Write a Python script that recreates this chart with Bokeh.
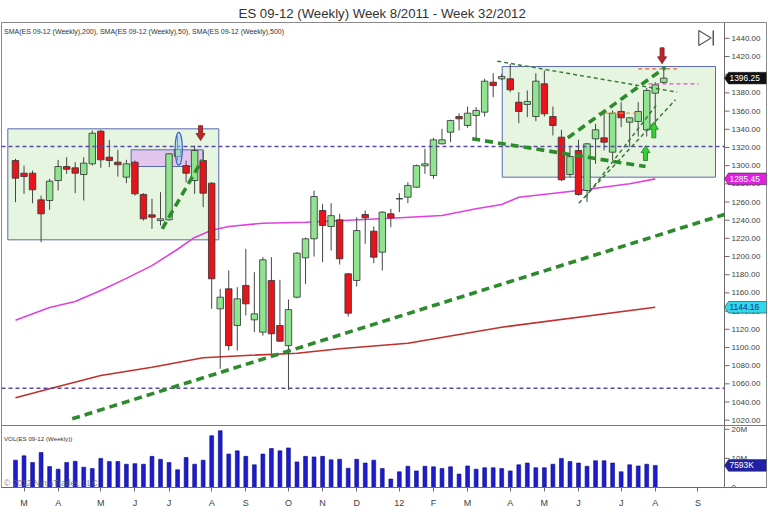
from bokeh.plotting import figure
from bokeh.models import Range1d, FixedTicker, Span, Label, ColumnDataSource
from bokeh.core.properties import value
from bokeh.embed import file_html
from bokeh.resources import INLINE

# ---------------- data (weekly bars, index 0 = week 8/2011) ----------------
bar_index = list(range(77))
opens = [1305.6, 1291.7, 1291.7, 1262.4, 1261.6, 1283.6, 1299.0, 1297.6, 1290.2, 1302.0,
         1337.9, 1309.3, 1303.8, 1287.3, 1303.8, 1268.3, 1245.9, 1239.6, 1240.4, 1310.0,
         1300.0, 1283.6, 1305.6, 1280.7, 1142.5, 1164.5, 1124.2, 1168.2, 1130.4, 1116.8,
         1173.7, 1124.2, 1102.0, 1155.3, 1198.6, 1219.5, 1250.6, 1233.0, 1240.4, 1181.0,
         1173.7, 1246.2, 1227.9, 1204.8, 1247.0, 1263.3, 1265.3, 1276.3, 1299.8, 1289.2,
         1324.0, 1336.8, 1354.0, 1344.2, 1355.2, 1358.8, 1391.8, 1395.5, 1395.5, 1369.8,
         1367.3, 1354.0, 1390.0, 1354.0, 1331.3, 1290.2, 1316.7, 1272.6, 1329.5, 1330.6,
         1314.8, 1359.6, 1347.8, 1348.6, 1339.4, 1379.7, 1391.6]
highs = [1307.5, 1300.0, 1294.6, 1267.0, 1285.5, 1306.4, 1309.3, 1303.8, 1309.3, 1338.6,
         1339.4, 1328.4, 1317.4, 1306.4, 1305.6, 1269.7, 1263.5, 1270.8, 1313.7, 1333.0,
         1305.6, 1322.0, 1316.7, 1281.8, 1164.5, 1184.6, 1166.3, 1208.5, 1182.8, 1199.3,
         1199.3, 1174.4, 1152.7, 1204.8, 1221.0, 1272.6, 1258.0, 1258.7, 1247.0, 1182.0,
         1243.3, 1250.6, 1233.0, 1250.0, 1252.5, 1269.7, 1281.8, 1301.2, 1318.5, 1330.6,
         1340.5, 1350.4, 1357.7, 1365.0, 1364.3, 1395.5, 1401.7, 1401.0, 1412.0, 1380.8,
         1382.7, 1401.7, 1404.7, 1365.0, 1339.4, 1321.0, 1328.4, 1325.0, 1346.0, 1358.8,
         1360.7, 1369.8, 1353.3, 1369.8, 1385.6, 1391.8, 1408.3]
lows = [1259.8, 1269.0, 1258.7, 1215.8, 1251.4, 1272.6, 1291.0, 1269.7, 1261.6, 1300.0,
        1297.6, 1298.3, 1288.0, 1280.7, 1267.0, 1239.6, 1230.5, 1234.2, 1239.6, 1305.6,
        1281.8, 1269.0, 1254.3, 1142.5, 1076.5, 1096.6, 1096.6, 1135.2, 1116.8, 1113.0,
        1093.0, 1106.0, 1053.4, 1154.0, 1170.0, 1200.0, 1193.8, 1206.6, 1191.2, 1134.0,
        1167.0, 1214.0, 1192.7, 1184.6, 1232.3, 1248.8, 1258.7, 1275.6, 1291.0, 1285.5,
        1323.3, 1325.8, 1338.6, 1341.6, 1328.4, 1354.0, 1375.3, 1394.0, 1380.8, 1346.7,
        1353.3, 1348.9, 1354.0, 1333.2, 1283.0, 1287.3, 1267.0, 1259.8, 1302.0, 1316.7,
        1305.6, 1342.3, 1320.3, 1332.0, 1332.0, 1342.3, 1390.0]
closes = [1286.2, 1288.0, 1273.4, 1247.0, 1282.9, 1299.0, 1296.0, 1291.7, 1302.7, 1335.7,
          1306.4, 1305.6, 1301.0, 1302.0, 1269.0, 1241.5, 1243.3, 1241.5, 1313.0, 1317.7,
          1291.7, 1316.7, 1269.7, 1175.5, 1155.3, 1102.0, 1153.5, 1148.0, 1137.0, 1196.4,
          1115.0, 1106.9, 1141.6, 1203.7, 1219.5, 1266.0, 1234.2, 1245.0, 1197.5, 1137.7,
          1228.6, 1242.6, 1199.3, 1248.8, 1242.6, 1263.8, 1278.2, 1300.0, 1302.0, 1328.4,
          1328.4, 1349.7, 1351.5, 1357.7, 1360.7, 1392.9, 1388.2, 1398.0, 1383.4, 1359.6,
          1370.6, 1392.9, 1357.0, 1344.2, 1284.4, 1310.0, 1268.3, 1324.0, 1339.4, 1325.8,
          1357.7, 1352.6, 1352.6, 1359.6, 1382.7, 1388.9, 1396.25]
volume_m = [9.4, 10.9, 8.6, 12.0, 7.2, 6.3, 8.6, 9.0, 7.0, 6.5,
            10.0, 8.9, 8.9, 8.0, 8.2, 8.0, 10.7, 9.7, 8.6, 6.1,
            10.3, 8.0, 9.4, 17.8, 19.5, 11.5, 12.6, 10.7, 7.8, 11.5,
            13.4, 12.6, 13.6, 8.8, 10.7, 10.5, 10.7, 9.5, 9.7, 6.6,
            9.7, 8.4, 9.4, 6.5, 2.9, 5.4, 7.3, 5.7, 7.3, 7.1,
            6.5, 7.1, 4.6, 7.4, 6.3, 6.8, 6.8, 6.5, 5.7, 7.8,
            8.4, 6.8, 6.8, 8.0, 10.0, 8.9, 8.4, 7.3, 9.2, 9.2,
            8.4, 5.4, 7.8, 7.4, 8.0, 7.593]
month_tick_index = [1, 5, 10, 14, 18, 23, 27, 32, 36, 40, 45, 49, 53, 58, 62, 66, 71, 75, 80]
month_tick_labels = ["M", "A", "M", "J", "J", "A", "S", "O", "N", "D", "12", "F",
                     "M", "A", "M", "J", "J", "A", "S"]
price_ticks = list(range(1020, 1441, 20))
volume_ticks_m = [0, 10, 20]
volume_tick_labels = ["0", "10M", "20M"]
sma50_index = [0, 4, 7, 10, 13, 16, 19, 21, 23, 25, 29, 34, 44, 50, 54, 57, 59, 66, 72, 75]
sma50_value = [1130.0, 1144.0, 1150.5, 1162.6, 1176.0, 1190.0, 1208.0, 1221.0, 1229.0, 1233.0,
               1236.7, 1237.8, 1242.2, 1245.2, 1252.5, 1257.3, 1265.3, 1272.6, 1280.0, 1285.45]
sma200_index = [0, 4, 10, 16, 22, 27, 33, 38, 46, 57, 75]
sma200_value = [1044.6, 1054.5, 1069.2, 1078.3, 1088.6, 1091.2, 1093.7, 1098.5, 1104.7, 1122.3, 1144.16]
last_close = 1396.25
last_sma50 = 1285.45
last_sma500 = 1144.16
last_volume = 7.593

# drawing objects (bar index / price coordinates)
support_levels = [1321.0, 1055.0]
zone_left = [-0.9, 57.06]
zone_right = [23.83, 82.06]
zone_top = [1340.5, 1409.0]
zone_bottom = [1218.4, 1287.3]
range_box = [13.56, 22.0, 1317.4, 1299.05]
ellipse_center = [19.14, 1318.5]
thick_x0 = [6.65, 17.2, 53.54, 64.75]
thick_y0 = [1021.5, 1230.5, 1329.5, 1330.6]
thick_x1 = [83.1, 21.9, 73.86, 76.2]
thick_y1 = [1246.3, 1306.4, 1299.0, 1408.3]
thin_x0 = [56.47, 66.04, 66.82]
thin_y0 = [1414.9, 1258.7, 1265.3]
thin_x1 = [77.57, 77.37, 75.23]
thin_y1 = [1380.8, 1372.4, 1368.0]
hline_y = [1357.7, 1406.5, 1390.0]
hline_x0 = [68.3, 73.0, 74.2]
hline_x1 = [73.3, 77.6, 80.1]
down_arrows = [(21.7, 1344.0, 1327.6), (75.8, 1429.6, 1412.0)]
up_arrows = [(73.86, 1305.6, 1322.0), (74.83, 1330.6, 1347.8)]

FONT = "Liberation Sans"
UP = "#8fe48f"
DOWN = "#e8141c"

# geometry: frame spans x 1..766, y 22..487
X0, X1 = -1.64, 88.04
Y0, Y1 = 945.95, 1457.45
VOLMAX = 159.8e6
PXX = (X1 - X0) / 765.0
PXY = (Y1 - Y0) / 465.0
AXIS_X = 83.12          # price axis position (x=724px)
PANEL_SPLIT = 1014.15   # boundary between price and volume panels

p = figure(width=768, height=526, output_backend="svg", toolbar_location=None,
           x_range=Range1d(X0, X1), y_range=Range1d(Y0, Y1),
           min_border_left=1, min_border_right=2, min_border_top=22, min_border_bottom=39,
           background_fill_color="white", border_fill_color="white",
           outline_line_color="#8a8a8a")
p.extra_y_ranges = {"vol": Range1d(0, VOLMAX)}
p.xgrid.visible = False
p.ygrid.visible = False
p.yaxis.visible = False

# title
p.title.text = "ES 09-12 (Weekly)  Week 8/2011 - Week 32/2012"
p.title.align = "center"
p.title.standoff = 4
p.title.text_font = FONT
p.title.text_font_size = "13.2px"
p.title.text_font_style = "normal"
p.title.text_color = "#333333"

# bottom axis
xa = p.xaxis[0]
xa.ticker = FixedTicker(ticks=month_tick_index)
xa.major_label_overrides = {i: s for i, s in zip(month_tick_index, month_tick_labels)}
xa.major_label_text_font = FONT
xa.major_label_text_font_size = "9px"
xa.major_label_text_color = "#404040"
xa.major_tick_out = 4
xa.major_tick_in = 0
xa.minor_tick_out = 0
xa.minor_tick_in = 0
xa.major_label_standoff = 6
xa.axis_line_color = "#6a6a6a"
xa.major_tick_line_color = "#6a6a6a"

# zones
p.quad(left=zone_left, right=zone_right, top=zone_top, bottom=zone_bottom,
       fill_color="#e6f5e0", line_color="#5a6ab0", line_width=1)
p.quad(left=[range_box[0]], right=[range_box[1]], top=[range_box[2]], bottom=[range_box[3]],
       fill_color="#e2c6ec", line_color="#5a6ab0", line_width=1)

# panel separator
p.add_layout(Span(location=PANEL_SPLIT, dimension="width", line_color="#7a7a7a", line_width=1))

# price axis drawn at the right edge of the chart area
p.segment(x0=[AXIS_X], y0=[Y0], x1=[AXIS_X], y1=[Y1], line_color="#6a6a6a", line_width=1)
p.segment(x0=[AXIS_X] * len(price_ticks), y0=price_ticks,
          x1=[AXIS_X + 5 * PXX] * len(price_ticks), y1=price_ticks,
          line_color="#6a6a6a", line_width=1)
p.text(x=[AXIS_X + 7 * PXX] * len(price_ticks), y=price_ticks,
       text=["%.2f" % t for t in price_ticks], text_font=value(FONT), text_font_size="8px",
       text_color="#404040", text_baseline="middle")
vt = [v * 1e6 for v in volume_ticks_m]
p.segment(x0=[AXIS_X] * 3, y0=vt, x1=[AXIS_X + 5 * PXX] * 3, y1=vt, y_range_name="vol",
          line_color="#6a6a6a", line_width=1)
p.text(x=[AXIS_X + 7 * PXX] * 3, y=vt, text=volume_tick_labels, y_range_name="vol",
       text_font=value(FONT), text_font_size="8px", text_color="#404040", text_baseline="middle")

# moving averages
p.line(sma200_index, sma200_value, line_color="#c0302c", line_width=1.6)
p.line(sma50_index, sma50_value, line_color="#e040e0", line_width=1.6)

# candles
src = ColumnDataSource(dict(
    x=bar_index, high=highs, low=lows,
    top=[max(o, c) for o, c in zip(opens, closes)],
    bot=[min(o, c) for o, c in zip(opens, closes)],
    color=[UP if c >= o else DOWN for o, c in zip(opens, closes)],
))
p.segment(x0="x", y0="low", x1="x", y1="high", source=src, line_color="#454545", line_width=1)
p.vbar(x="x", width=0.76, top="top", bottom="bot", fill_color="color",
       line_color="#303030", line_width=0.8, source=src)

# volume
p.vbar(x=bar_index[:len(volume_m)], width=0.45, top=[v * 1e6 for v in volume_m], bottom=0,
       y_range_name="vol", fill_color="#1c1cd0", line_color="#0a0a80", line_width=0.6)

# horizontal levels
p.segment(x0=[X0] * len(support_levels), y0=support_levels,
          x1=[AXIS_X] * len(support_levels), y1=support_levels,
          line_color="#5a48a8", line_width=1.5, line_dash="4 3")
p.segment(x0=hline_x0, y0=hline_y, x1=hline_x1, y1=hline_y,
          line_color=["#e8903c", "#e86040", "#e050e0"], line_width=1.3, line_dash="4 3")

# trend lines
p.segment(x0=thin_x0, y0=thin_y0, x1=thin_x1, y1=thin_y1,
          line_color="#3a7a3a", line_width=1.5, line_dash="4 3")
p.segment(x0=thick_x0, y0=thick_y0, x1=thick_x1, y1=thick_y1,
          line_color="#2d8a2d", line_width=3.6, line_dash="8 5")

# ellipse
p.ellipse(x=[ellipse_center[0]], y=[ellipse_center[1]], width=0.85, height=36,
          fill_color="#9fd3f0", fill_alpha=0.55, line_color="#3a5fc0", line_width=1.2)

# arrows
def arrow_poly(x, y_tail, y_tip):
    s = 1 if y_tip > y_tail else -1
    hw, hh, hl = 2.0 * PXX, 4.5 * PXX, 7 * PXY
    yb = y_tip - s * hl
    return ([x - hw, x + hw, x + hw, x + hh, x, x - hh, x - hw],
            [y_tail, y_tail, yb, yb, y_tip, yb, yb])
dxs, dys = zip(*[arrow_poly(*a) for a in down_arrows])
p.patches(list(dxs), list(dys), fill_color="#b8282c", line_color="#801818", line_width=0.8)
uxs, uys = zip(*[arrow_poly(*a) for a in up_arrows])
p.patches(list(uxs), list(uys), fill_color="#38d038", line_color="#1a7a1a", line_width=0.8)

# "go to end" icon
p.patch([80.1, 80.1, 81.55], [1448.6, 1432.2, 1440.4], fill_color="white",
        line_color="#555555", line_width=1.2)
p.segment(x0=[81.8], y0=[1448.6], x1=[81.8], y1=[1432.2], line_color="#555555", line_width=1.5)

# value tags on the price axis
def tag(y, txt, bg, fg, rng="default", per_px=PXY):
    h = 5.8 * per_px
    xs = [AXIS_X, AXIS_X + 4 * PXX, AXIS_X + 42 * PXX, AXIS_X + 42 * PXX, AXIS_X + 4 * PXX]
    ys = [y, y + h, y + h, y - h, y - h]
    p.patch(xs, ys, fill_color=bg, line_color="#303030", line_width=0.6, y_range_name=rng)
    p.text(x=[AXIS_X + 5 * PXX], y=[y], text=[txt], y_range_name=rng,
           text_font=value(FONT), text_font_size="8.4px", text_color=fg, text_baseline="middle")

tag(last_close, "%.2f" % last_close, "#111111", "white")
tag(last_sma50, "%.2f" % last_sma50, "#e020e0", "white")
tag(last_sma500, "%.2f" % last_sma500, "#30d8e8", "#10307a")
tag(last_volume * 1e6, "%dK" % round(last_volume * 1000), "#2020a8", "white", "vol",
    VOLMAX / 465.0)

# texts
p.add_layout(Label(x=-1.35, y=1447.5, text="SMA(ES 09-12 (Weekly),200), SMA(ES 09-12 (Weekly),50), SMA(ES 09-12 (Weekly),500)",
                   text_font=FONT, text_font_size="7px", text_color="#333333", text_baseline="middle"))
p.add_layout(Label(x=-1.35, y=999.8, text="VOL(ES 09-12 (Weekly))",
                   text_font=FONT, text_font_size="6.2px", text_color="#333333", text_baseline="middle"))
p.add_layout(Label(x=-1.35, y=950.5, text="\u00a9 2012 NinjaTrader, LLC",
                   text_font=FONT, text_font_size="8.5px", text_color="#6a6a6a", text_alpha=0.8,
                   text_baseline="middle"))

open("out.html", "w").write(file_html(p, INLINE))
